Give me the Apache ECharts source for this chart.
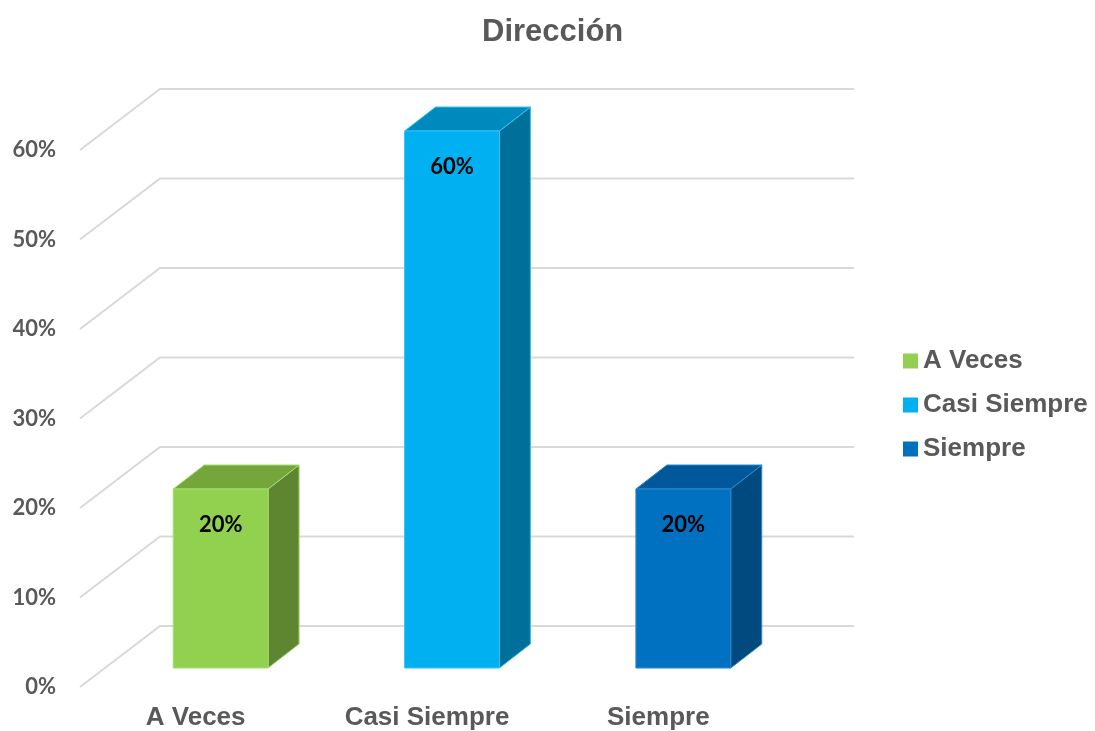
<!DOCTYPE html>
<html><head><meta charset="utf-8">
<script src="https://cdn.jsdelivr.net/npm/echarts@6/dist/echarts.min.js"></script>
<style>html,body{margin:0;padding:0;background:#fff}#c{width:1095px;height:731px}</style>
</head><body><div id="c"></div>
<script>
const categories = ['A Veces', 'Casi Siempre', 'Siempre'];
const values = [0.2, 0.6, 0.2];
const tickValues = [0, 0.1, 0.2, 0.3, 0.4, 0.5, 0.6];
const frontColors = ['#92D050', '#00B0F0', '#0070C0'];
const topColors = ['#74A63C', '#0089BC', '#00589A'];
const sideColors = ['#5E8631', '#00709A', '#004A80'];
const edgeColors = ['#A6DC6C', '#33C4F5', '#2A88CC'];

const chart = echarts.init(document.getElementById('c'), null, {renderer: 'canvas'});

// projection offsets (pixels) for the pseudo-3D look
const DEPTH_DX = 80, DEPTH_DY = 61;      // front plane -> back wall
const BAR_FX = 25, BAR_FY = 19;          // front plane -> bar front face
const BAR_DX = 31, BAR_DY = 24;          // bar depth

function gridRender(params, api) {
  const cs = params.coordSys;
  const y = api.coord([0, api.value(1)])[1];
  const x0 = cs.x, x1 = cs.x + DEPTH_DX, x2 = cs.x + cs.width + DEPTH_DX;
  return {
    type: 'polyline',
    shape: {points: [[x0, y], [x1, y - DEPTH_DY], [x2, y - DEPTH_DY]]},
    style: {stroke: '#D9D9D9', lineWidth: 2, fill: null}
  };
}

function barRender(i) {
  return function (params, api) {
    const cat = api.value(0), v = api.value(1);
    const b = api.coord([cat, 0]), t = api.coord([cat, v]);
    const band = api.size([1, 0])[0];
    const w = band * 0.41;
    const cx = b[0] + BAR_FX;
    const x0 = cx - w / 2, x1 = cx + w / 2;
    const yb = b[1] - BAR_FY, yt = t[1] - BAR_FY;
    return {
      type: 'group',
      children: [
        {type: 'polygon', shape: {points: [[x1, yt], [x1 + BAR_DX, yt - BAR_DY], [x1 + BAR_DX, yb - BAR_DY], [x1, yb]]},
          style: {fill: sideColors[i], stroke: edgeColors[i], lineWidth: 1}},
        {type: 'polygon', shape: {points: [[x0, yt], [x0 + BAR_DX, yt - BAR_DY], [x1 + BAR_DX, yt - BAR_DY], [x1, yt]]},
          style: {fill: topColors[i], stroke: edgeColors[i], lineWidth: 1}},
        {type: 'rect', shape: {x: x0, y: yt, width: w, height: yb - yt},
          style: {fill: frontColors[i], stroke: edgeColors[i], lineWidth: 1}},
        {type: 'text', style: {text: Math.round(v * 100) + '%', x: cx, y: yt + 36, align: 'center', verticalAlign: 'middle',
          fontSize: 22, fontWeight: 'bold', fontFamily: 'Lato, "Liberation Sans", sans-serif', fill: '#000000'}}
      ]
    };
  };
}

const series = [{
  type: 'custom',
  name: 'grid',
  silent: true,
  z: 1,
  data: tickValues.map(v => [0, v]),
  renderItem: gridRender,
  clip: false
}];
categories.forEach((c, i) => {
  series.push({
    type: 'custom',
    name: c,
    z: 5,
    itemStyle: {color: frontColors[i]},
    data: [[i, values[i]]],
    renderItem: barRender(i),
    clip: false
  });
});

chart.setOption({
  animation: false,
  backgroundColor: '#ffffff',
  title: {
    text: 'Dirección',
    left: 477, top: 12,
    textStyle: {fontFamily: '"Liberation Sans", Arial, sans-serif', fontSize: 31, fontWeight: 'bold', color: '#595959'}
  },
  legend: {
    data: categories,
    orient: 'vertical',
    left: 898, top: 343,
    itemWidth: 15, itemHeight: 15, itemGap: 18,
    icon: 'rect',
    textStyle: {fontFamily: '"Liberation Sans", Arial, sans-serif', fontSize: 26, fontWeight: 'bold', color: '#595959'}
  },
  grid: {left: 80, right: 321, top: 150, bottom: 44, containLabel: false},
  xAxis: {
    type: 'category',
    data: categories,
    axisLine: {show: false}, axisTick: {show: false}, splitLine: {show: false},
    axisLabel: {margin: 18, fontFamily: '"Liberation Sans", Arial, sans-serif', fontSize: 26, fontWeight: 'bold', color: '#595959'}
  },
  yAxis: {
    type: 'value', min: 0, max: 0.6, interval: 0.1,
    axisLine: {show: false}, axisTick: {show: false}, splitLine: {show: false},
    axisLabel: {margin: 24, formatter: v => Math.round(v * 100) + '%',
      fontFamily: 'Lato, "Liberation Sans", sans-serif', fontSize: 22, fontWeight: 'bold', color: '#595959'}
  },
  series: series
});
</script>
</body></html>
